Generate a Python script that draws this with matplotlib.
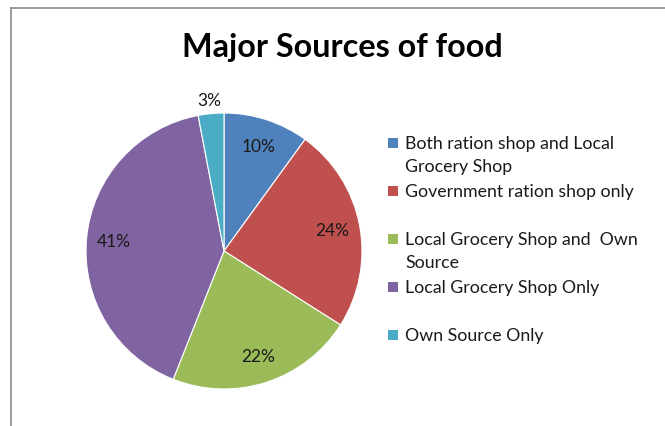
import matplotlib
matplotlib.use("Agg")
import matplotlib.pyplot as plt
from matplotlib.lines import Line2D
from matplotlib.patches import Rectangle
import numpy as np

title = "Major Sources of food"
categories = [
    "Both ration shop and Local\nGrocery Shop",
    "Government ration shop only",
    "Local Grocery Shop and  Own\nSource",
    "Local Grocery Shop Only",
    "Own Source Only",
]
shares = [10, 24, 22, 41, 3]
colors = ["#4F81BD", "#C0504D", "#9BBB59", "#8064A2", "#4BACC6"]

W, H = 665, 427
fig = plt.figure(figsize=(W / 100, H / 100), dpi=100)
fig.patch.set_facecolor("white")
font = ["Lato", "DejaVu Sans"]

# chart frame (top and left edges visible)
fx = lambda px: px / W
fy = lambda py: 1 - py / H
fig.add_artist(Line2D([fx(10.5), fx(10.5)], [fy(9), 0], color="#8a8a8a", lw=1.2))
fig.add_artist(Line2D([fx(10.5), 1], [fy(9), fy(9)], color="#8a8a8a", lw=1.2))

cx, cy, r = 224, 252, 138
ax = fig.add_axes([fx(cx - r), fy(cy + r), 2 * r / W, 2 * r / H])
wedges, _ = ax.pie(shares, colors=colors, startangle=90, counterclock=False,
                   radius=1.0,
                   wedgeprops=dict(edgecolor="white", linewidth=0.8))
ax.set_xlim(-1, 1)
ax.set_ylim(-1, 1)
ax.set_aspect("equal")
ax.axis("off")

# percentage labels
for w, v in zip(wedges, shares):
    ang = np.deg2rad((w.theta1 + w.theta2) / 2)
    d = 0.80 if v >= 5 else 1.10
    ax.text(d * np.cos(ang), d * np.sin(ang), f"{v}%", ha="center", va="center",
            fontsize=12.5, family=font, color="#1a1a1a", clip_on=False)

fig.text(0.5 * (182 + 503) / W, fy(47), title, ha="center", va="center",
         fontsize=23.3, fontweight="bold", family=font, color="black")

# legend: one slot of two text lines per entry
y0, step, line_h = 144, 48, 23
for i, (lab, c) in enumerate(zip(categories, colors)):
    yy = y0 + i * step
    fig.add_artist(Rectangle((fx(388), fy(yy + 5)), 10 / W, 10 / H,
                             facecolor=c, edgecolor="none",
                             transform=fig.transFigure))
    for k, part in enumerate(lab.split("\n")):
        fig.text(fx(405), fy(yy + k * line_h), part, ha="left", va="center",
                 fontsize=12.8, family=font, color="#1a1a1a")

fig.savefig("out.png", dpi=100, facecolor="white")
